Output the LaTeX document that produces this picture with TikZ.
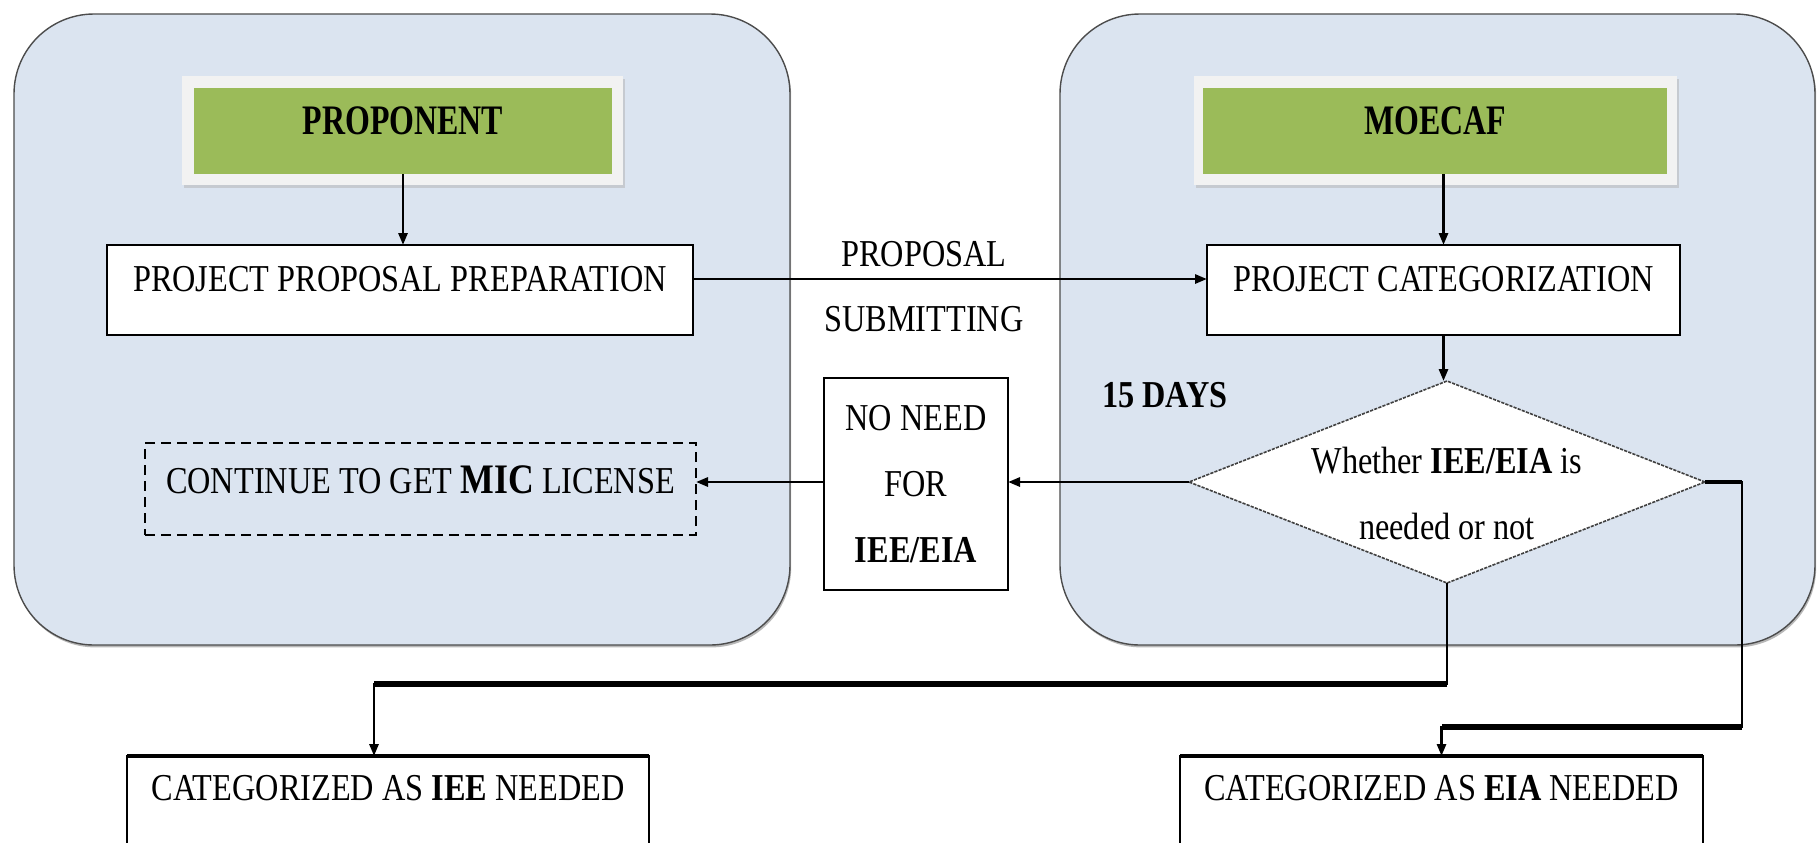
\documentclass[tikz,border=0pt]{standalone}
\usepackage{fontspec}
\setmainfont{Liberation Serif}[FakeStretch=0.85]
\newfontfamily\hdrfont{Liberation Serif}[FakeStretch=0.76]
\usetikzlibrary{arrows.meta,shapes.geometric,shadows}
\definecolor{panelblue}{HTML}{DBE4F0}
\definecolor{hdrgreen}{HTML}{9BBB59}
\definecolor{hdrframe}{HTML}{F2F2F2}
\begin{document}
\begin{tikzpicture}[x=0.5pt,y=-0.5pt,
  every node/.style={font=\fontsize{19}{33}\selectfont, inner sep=0pt, outer sep=0pt},
  panel/.style={draw=black!70, line width=0.7pt, fill=panelblue, rounded corners=40pt,
     drop shadow={shadow xshift=0.6pt, shadow yshift=-1.2pt, fill=black!55}},
  hframe/.style={fill=hdrframe, drop shadow={shadow xshift=1pt, shadow yshift=-1.5pt, fill=black!30}},
  hgreen/.style={fill=hdrgreen, font=\hdrfont\fontsize{21}{33}\selectfont\bfseries, text height=13.9pt},
  procbox/.style={draw=black, line width=1.1pt, fill=white},
  onerow/.style={text height=12.6pt},
  dashbox/.style={draw=black, line width=1pt, dash pattern=on 5pt off 3pt},
  decision/.style={diamond, draw=black!75, line width=0.8pt, dash pattern=on 1.6pt off 0.6pt, fill=white},
  conn/.style={line width=1.4pt, -{Triangle[length=6pt,width=4.5pt]}},
  heavy/.style={line width=2.6pt}
]
\clip (0,0) rectangle (1817,842);
\fill[white] (0,0) rectangle (1817,842);

% panels
\node[panel, minimum width=388pt, minimum height=315.5pt] (lpanel) at (402,329.5) {};
\node[panel, minimum width=377.5pt, minimum height=315.5pt] (rpanel) at (1437.5,329.5) {};

% headers
\node[hframe, minimum width=220.5pt, minimum height=54.5pt] (pframe) at (402.5,130.5) {};
\node[hgreen, minimum width=209pt, minimum height=43pt, text depth=10.5pt] (proponent) at (403,131) {PROPONENT};
\node[hframe, minimum width=241.5pt, minimum height=54.5pt] (mframe) at (1435.5,130.5) {};
\node[hgreen, minimum width=232pt, minimum height=43pt, text depth=10.5pt] (moecaf) at (1435,131) {MOECAF};

% process boxes
\node[procbox, onerow, minimum width=293pt, minimum height=45pt, text depth=11pt] (ppp) at (400,290) {PROJECT PROPOSAL PREPARATION};
\node[procbox, onerow, minimum width=236.5pt, minimum height=45pt, text depth=11pt] (pc) at (1443.5,290) {PROJECT CATEGORIZATION};

\node[dashbox, onerow, minimum width=275.5pt, minimum height=46pt, text depth=8pt] (cont) at (420.5,489) {CONTINUE TO GET {\fontsize{21}{33}\selectfont\bfseries MIC} LICENSE};

\node[procbox, line width=1pt, minimum width=92pt, minimum height=106pt, align=center] (noneed) at (916,484) {NO NEED\\FOR\\\textbf{IEE/EIA}};

\node[decision, minimum width=258pt, minimum height=101pt] (decide) at (1447,482) {};
\node[align=center] (dtext) at (1447,493) {Whether \textbf{IEE/EIA} is\\needed or not};

\node[procbox, onerow, line width=1pt, minimum width=261pt, minimum height=80pt, text depth=48pt] (iee) at (388,836) {CATEGORIZED AS \textbf{IEE} NEEDED};
\node[procbox, onerow, line width=1pt, minimum width=261.5pt, minimum height=80pt, text depth=48pt] (eia) at (1441.5,836) {CATEGORIZED AS \textbf{EIA} NEEDED};
\draw[line width=2.2pt] (iee.north west) -- (iee.north east);
\draw[line width=2.2pt] (eia.north west) -- (eia.north east);

% labels
\node (days) at (1165,395) {\bfseries 15 DAYS};
\node (lblprop) at (924,254) {PROPOSAL};
\node (lblsub) at (924,319) {SUBMITTING};

% connectors
\draw[conn] (proponent.south) -- (proponent.south |- ppp.north);
\draw[conn] (pc.north |- moecaf.south) -- (pc.north);
\draw[conn] ([yshift=5.5pt]ppp.east) -- ([yshift=5.5pt]pc.west);
\draw[conn] (pc.south) -- (pc.south |- decide.north);
\draw[conn] (decide.west) -- (decide.west -| noneed.east);
\draw[conn] (decide.west -| noneed.west) -- (decide.west -| cont.east);

\coordinate (lvl1) at (0,684);
\coordinate (lvl2) at (1742,727);
\coordinate (ieein) at ([xshift=-7pt]iee.north);
\draw[conn] (decide.south) |- (ieein |- lvl1) -- (ieein);
\draw[heavy] (decide.south |- lvl1) -- (ieein |- lvl1);
\draw[conn] (decide.east) -| (lvl2) -| (eia.north);
\draw[heavy] (lvl2) -- (eia.north |- lvl2);
\draw[line width=2pt] (decide.east) -- (decide.east -| lvl2);
\end{tikzpicture}
\end{document}
